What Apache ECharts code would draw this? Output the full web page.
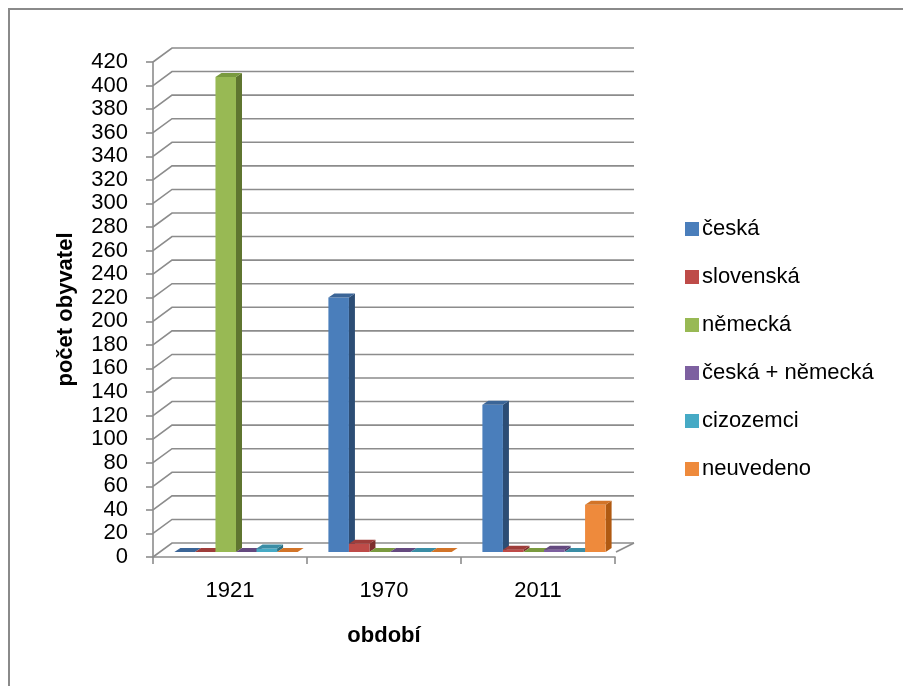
<!DOCTYPE html>
<html lang="cs">
<head>
    <meta charset="UTF-8">
    <title>počet obyvatel podle národnosti</title>
    <script src="https://cdn.jsdelivr.net/npm/echarts@6/dist/echarts.min.js"></script>
    <style>
        html, body { margin: 0; padding: 0; background: #fff; }
        #chart { width: 903px; height: 686px; }
    </style>
</head>
<body>
    <div id="chart"></div>

    <script>
        // data
        const categories = ['1921', '1970', '2011'];
        const ceska = [0, 216, 125];
        const slovenska = [0, 7, 2];
        const nemecka = [403, 0, 0];
        const ceskaNemecka = [0, 0, 2];
        const cizozemci = [3, 0, 0];
        const neuvedeno = [0, 0, 40];

        const seriesNames = ['česká', 'slovenská', 'německá', 'česká + německá', 'cizozemci', 'neuvedeno'];
        const seriesValues = [ceska, slovenska, nemecka, ceskaNemecka, cizozemci, neuvedeno];
        // front face, side face, top cap
        const colors = [
            ['#4A7EBB', '#2C4D75', '#3B6597'],
            ['#BE4B48', '#7D2F2D', '#9E3D3A'],
            ['#98B954', '#5F7530', '#7A9A3F'],
            ['#7D60A0', '#4E3B64', '#64497F'],
            ['#46AAC5', '#2A6F82', '#3A8DA5'],
            ['#EE8A3C', '#B05A12', '#D27428']
        ];

        const FONT = 'Liberation Sans';
        const GRID_COLOR = '#8c8c8c';
        // depth of the back wall and of the bars
        const WALL_DX = 19, WALL_DY = -14;
        const BAR_DX = 6, BAR_DY = -5;
        const SIDE_DX = 6, SIDE_DY = -4;

        const chart = echarts.init(document.getElementById('chart'));

        // back wall, left wall and floor drawn as a custom series from the axis ticks
        function renderWall(params, api) {
            const cs = params.coordSys;
            const y = api.coord([0, api.value(0)])[1];
            const xl = cs.x, xr = cs.x + cs.width;
            const children = [{
                type: 'polyline',
                shape: { points: [[xl, y], [xl + WALL_DX, y + WALL_DY], [xr + WALL_DX, y + WALL_DY]] },
                style: { stroke: GRID_COLOR, lineWidth: 1.6, fill: null }
            }];
            if (api.value(0) === 0) {
                children.push({
                    type: 'line',
                    shape: { x1: xr + WALL_DX, y1: y + WALL_DY, x2: xr + 1, y2: y + BAR_DY },
                    style: { stroke: GRID_COLOR, lineWidth: 1.6 }
                });
            }
            return { type: 'group', children: children };
        }

        function makeBarRenderer(idx) {
            return function (params, api) {
                const cat = api.value(0);
                const top = api.coord([cat, api.value(1)]);
                const base = api.coord([cat, 0]);
                const band = api.size([1, 0])[0];
                const bw = band * 0.8 / 6;
                const x0 = top[0] - band * 0.4 + idx * bw + BAR_DX;
                const x1 = x0 + bw;
                const yt = top[1] + BAR_DY;
                const yb = base[1] + BAR_DY;
                const c = colors[idx];
                return {
                    type: 'group',
                    children: [
                        {
                            type: 'polygon',
                            shape: { points: [[x1, yt], [x1 + SIDE_DX, yt + SIDE_DY], [x1 + SIDE_DX, yb + SIDE_DY], [x1, yb]] },
                            style: { fill: c[1] }
                        },
                        {
                            type: 'rect',
                            shape: { x: x0, y: yt, width: bw, height: yb - yt },
                            style: { fill: c[0] }
                        },
                        {
                            type: 'polygon',
                            shape: { points: [[x0, yt], [x0 + SIDE_DX, yt + SIDE_DY], [x1 + SIDE_DX, yt + SIDE_DY], [x1, yt]] },
                            style: { fill: c[2] }
                        }
                    ]
                };
            };
        }

        const yMax = 420, yStep = 20;
        const wallTicks = [];
        for (let v = 0; v <= yMax; v += yStep) wallTicks.push([v]);

        const series = [{
            name: 'wall',
            type: 'custom',
            renderItem: renderWall,
            data: wallTicks,
            silent: true,
            z: 1
        }];
        seriesValues.forEach((vals, i) => {
            series.push({
                name: seriesNames[i],
                type: 'custom',
                renderItem: makeBarRenderer(i),
                data: vals.map((v, j) => [j, v]),
                itemStyle: { color: colors[i][0] },
                encode: { x: 0, y: 1 },
                z: 2 + i
            });
        });

        const option = {
            backgroundColor: '#fff',
            animation: false,
            textStyle: { fontFamily: FONT, color: '#000' },
            graphic: [{
                type: 'rect',
                shape: { x: 9, y: 9, width: 920, height: 700 },
                style: { fill: null, stroke: '#8a8a8a', lineWidth: 2 },
                silent: true
            }],
            legend: {
                orient: 'vertical',
                left: 680,
                top: 213,
                itemWidth: 14,
                itemHeight: 14,
                itemGap: 26,
                icon: 'rect',
                data: seriesNames,
                textStyle: { fontFamily: FONT, fontSize: 22, color: '#000', padding: [0, 0, 0, -2] }
            },
            grid: { left: 153, top: 62, width: 462, height: 495 },
            xAxis: {
                type: 'category',
                data: categories,
                boundaryGap: true,
                axisLine: { lineStyle: { color: GRID_COLOR, width: 1.6 } },
                axisTick: { show: true, length: 7, lineStyle: { color: GRID_COLOR, width: 1.6 } },
                axisLabel: { fontFamily: FONT, fontSize: 22, color: '#000', margin: 23 },
                name: 'období',
                nameLocation: 'middle',
                nameGap: 68,
                nameTextStyle: { fontFamily: FONT, fontSize: 22, fontWeight: 'bold', color: '#000' }
            },
            yAxis: {
                type: 'value',
                min: 0,
                max: yMax,
                interval: yStep,
                axisLine: { show: true, lineStyle: { color: GRID_COLOR, width: 1.6 } },
                axisTick: { show: true, length: 7, lineStyle: { color: GRID_COLOR, width: 1.6 } },
                axisLabel: { fontFamily: FONT, fontSize: 22, color: '#000', margin: 25 },
                splitLine: { show: false },
                name: 'počet obyvatel',
                nameLocation: 'middle',
                nameRotate: 90,
                nameGap: 76,
                nameTextStyle: { fontFamily: FONT, fontSize: 22, fontWeight: 'bold', color: '#000' }
            },
            series: series
        };

        chart.setOption(option);
    </script>
</body>
</html>
